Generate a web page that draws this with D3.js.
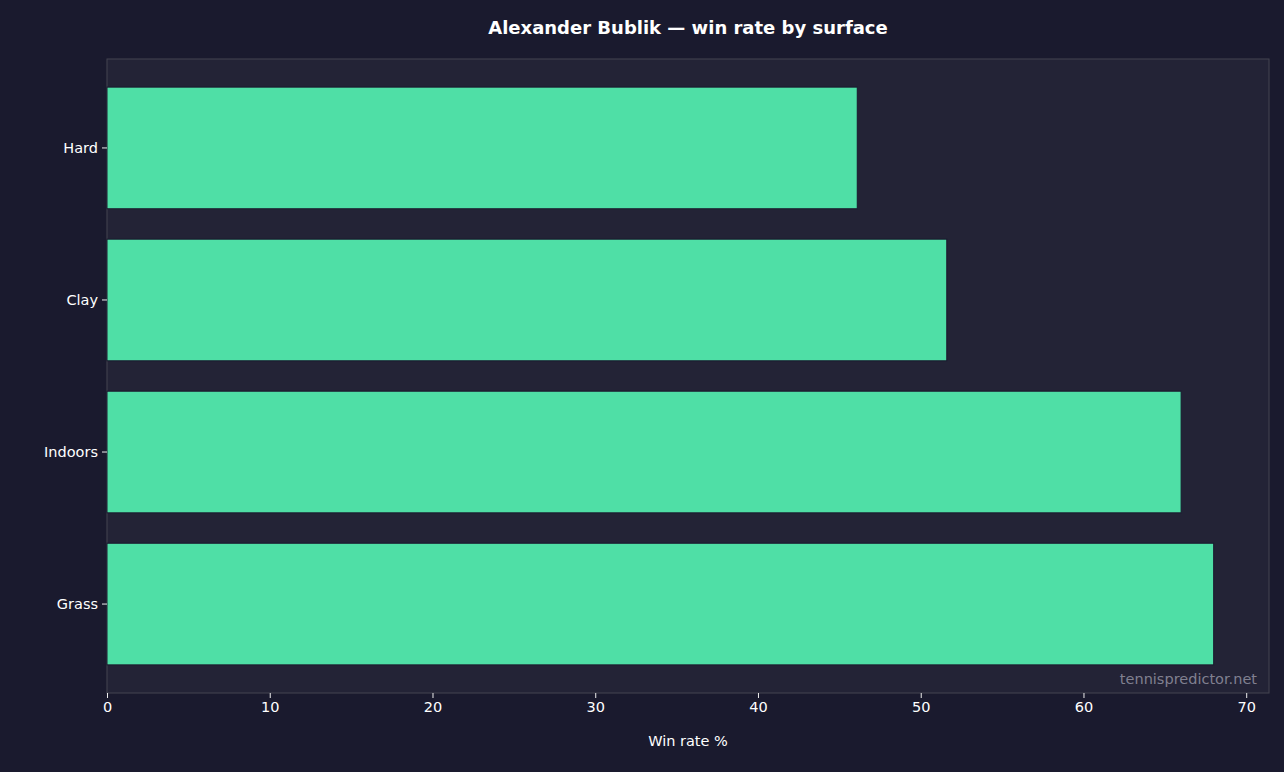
<!DOCTYPE html><html><head><meta charset="utf-8"><script src="https://cdn.jsdelivr.net/npm/d3@7"></script>
<style>body{margin:0;background:#1a1a2e}</style></head><body><script>
const categories=["Hard","Clay","Indoors","Grass"];
const values=[46.1,51.6,66.0,68.0];
const xTicks=[0,10,20,30,40,50,60,70];
const W=1284,H=772,m={l:107,r:15,t:59,b:79};
const svg=d3.select("body").append("svg").attr("width",W).attr("height",H).style("font-family","DejaVu Sans");
svg.append("rect").attr("width",W).attr("height",H).attr("fill","#1a1a2e");
const x=d3.scaleLinear().domain([0,71.4]).range([m.l,W-m.r]);
const y=d3.scaleBand().domain(categories).range([m.t,H-m.b]).paddingInner(0.2).paddingOuter(0.185);
svg.append("rect").attr("x",m.l).attr("y",m.t).attr("width",W-m.r-m.l).attr("height",H-m.b-m.t).attr("fill","#232336").attr("stroke","#444450");
svg.selectAll(".b").data(values).join("rect").attr("x",x(0)).attr("y",(d,i)=>y(categories[i])).attr("width",d=>x(d)-x(0)).attr("height",y.bandwidth()).attr("fill","#4fdfa6").attr("stroke","#1a1a2e").attr("stroke-width",1);
const ax=svg.append("g").attr("transform",`translate(0,${H-m.b})`).call(d3.axisBottom(x).tickValues(xTicks).tickSize(5).tickPadding(4));
const ay=svg.append("g").attr("transform",`translate(${m.l},0)`).call(d3.axisLeft(y).tickSize(5).tickPadding(4));
[ax,ay].forEach(a=>{a.select(".domain").remove();a.selectAll("line").attr("stroke","#eee");a.selectAll("text").attr("fill","#fff").style("font-size","14.5px").style("font-family","DejaVu Sans");});
svg.append("text").attr("x",(m.l+W-m.r)/2).attr("y",746).attr("text-anchor","middle").attr("fill","#fff").style("font-size","14.5px").text("Win rate %");
svg.append("text").attr("x",688).attr("y",34).attr("text-anchor","middle").attr("fill","#fff").style("font-size","18px").style("font-weight","bold").text("Alexander Bublik — win rate by surface");
svg.append("text").attr("x",1257).attr("y",684).attr("text-anchor","end").attr("fill","#808090").style("font-size","14.5px").text("tennispredictor.net");
</script></body></html>
